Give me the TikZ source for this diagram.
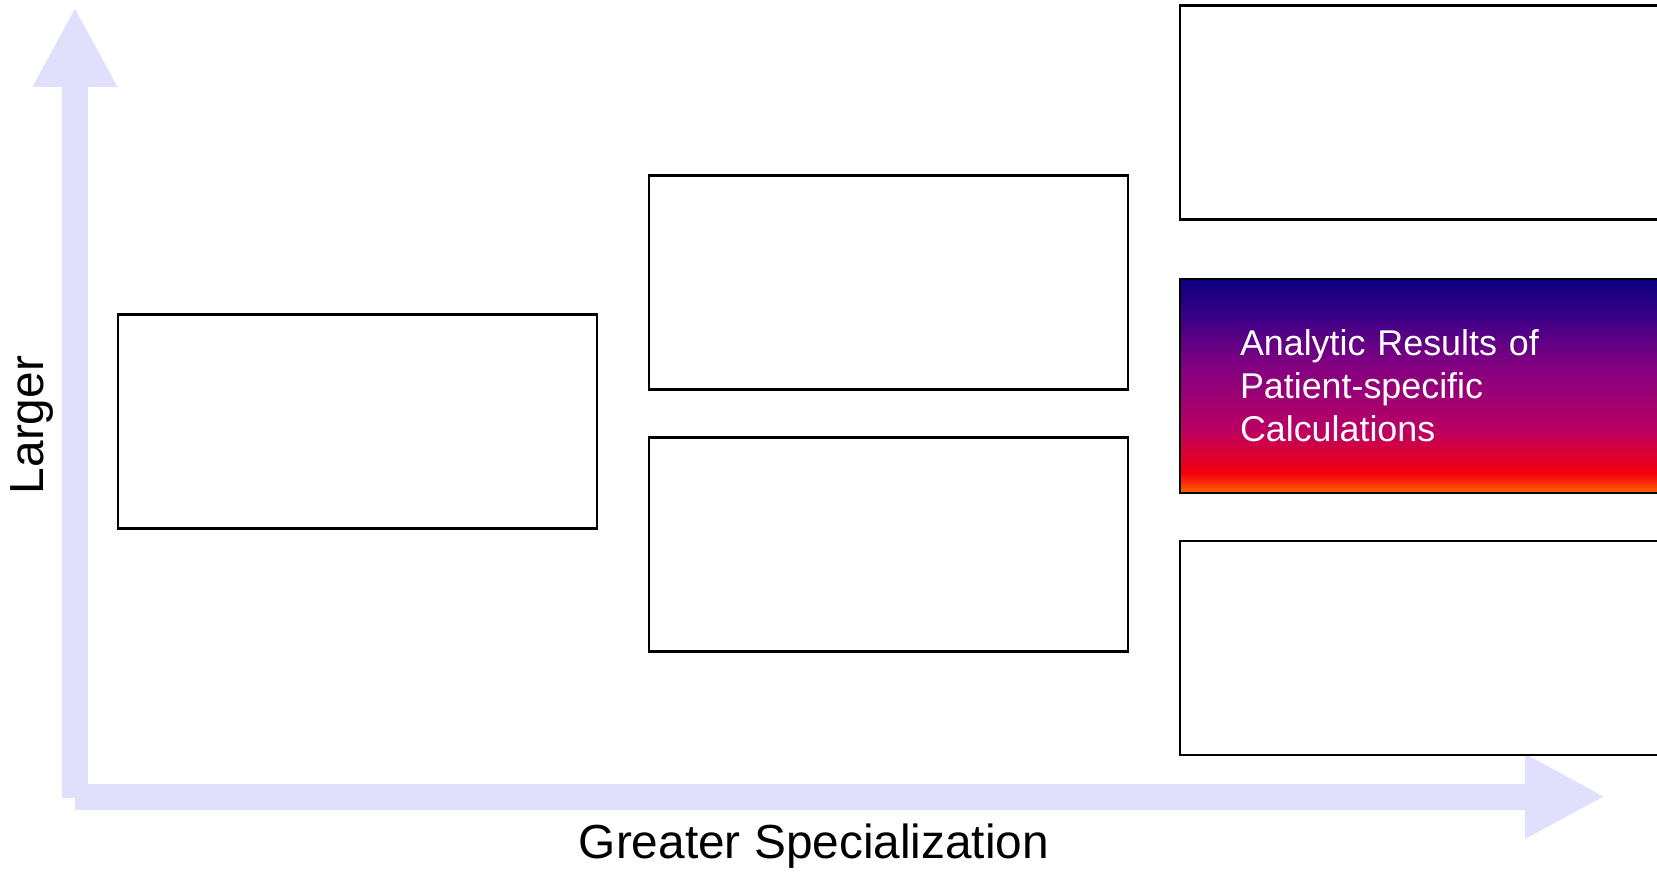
\documentclass[tikz,border=0pt]{standalone}
\usepackage{fontspec}
\setmainfont{Liberation Sans}
\usepackage{tikz}
\usetikzlibrary{arrows.meta}
\definecolor{axisblue}{RGB}{224,224,252}
\definecolor{gnavy}{RGB}{12,0,128}
\definecolor{gindigo}{RGB}{50,0,135}
\definecolor{gpurple}{RGB}{130,0,130}
\definecolor{gmagenta}{RGB}{185,0,100}
\definecolor{gred}{RGB}{245,0,12}
\definecolor{gorange}{RGB}{255,105,0}
\pgfdeclareverticalshading{resultshade}{100bp}{color(0bp)=(gorange); color(25bp)=(gorange); color(29.5bp)=(gred); color(40bp)=(gmagenta); color(55bp)=(gpurple); color(67.5bp)=(gindigo); color(75bp)=(gnavy); color(100bp)=(gnavy)}
\tikzstyle{emptybox} = [rectangle, minimum width=4.79cm, minimum height=2.14cm, draw=black, line width=0.6pt]
\tikzstyle{widebox} = [emptybox, minimum width=4.85cm]
\tikzstyle{resultbox} = [widebox, shading=resultshade, text=white, text width=3.65cm, inner xsep=0.6cm, align=left, font=\fontsize{10.2pt}{12.2pt}\selectfont]
\tikzstyle{axislabel} = [font=\fontsize{13.6pt}{16pt}\selectfont]
\tikzstyle{axis} = [line width=0.26cm, color=axisblue, -{Triangle[width=0.79cm,length=0.8cm]}]

\begin{document}
\begin{tikzpicture}[node distance=2.62cm]
        \useasboundingbox (0,0) rectangle (16.57,8.71);
        % Axes
        \coordinate (vbase) at (0.75,0.73);
        \coordinate (vtip) at (0.75,8.64);
        \coordinate (hbase) at (0.75,0.745);
        \coordinate (htip) at (16.05,0.745);
        \draw [axis] (vbase) -- (vtip);
        \draw [axis] (hbase) -- (htip);
        \node (ylabel) [axislabel, rotate=90] at (0.32,4.46) {Larger};
        \node (xlabel) [axislabel] at (8.14,0.25) {Greater Specialization};

        % Boxes
        \node (infobox) [emptybox] at (3.575,4.495) {};
        \node (upperbox) [emptybox, right of=infobox, xshift=2.69cm, yshift=1.39cm] {};
        \node (lowerbox) [emptybox, below of=upperbox] {};
        \node (results) [resultbox, right of=upperbox, xshift=2.72cm, yshift=-1.035cm] {Analytic Results of\\Patient-specific\\Calculations};
        \node (topbox) [widebox, above of=results, yshift=0.115cm] {};
        \node (bottombox) [widebox, below of=results] {};
    \end{tikzpicture}
\end{document}
